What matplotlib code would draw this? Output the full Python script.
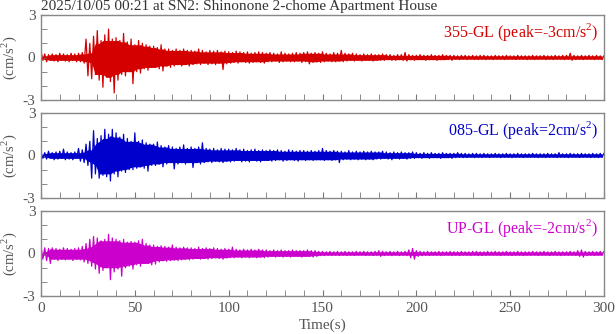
import matplotlib
matplotlib.use("Agg")
import matplotlib.pyplot as plt
import numpy as np
from matplotlib.ticker import MultipleLocator

plt.rcParams['font.family'] = ['Liberation Serif', 'DejaVu Serif']
plt.rcParams['mathtext.fontset'] = 'custom'
plt.rcParams['mathtext.rm'] = 'Liberation Serif'

title = "2025/10/05 00:21 at SN2: Shinonone 2-chome Apartment House"

# time of each 2 s bin (s)
t_bin = np.arange(0, 300, 2)

# 355-GL: upper / lower peak in each 2 s bin (cm/s^2)
ns_up = [0.45, 0.25, 0.2, 0.25, 0.2, 0.3, 0.25, 0.2, 0.3, 0.25,
         0.3, 0.35, 1.3, 1.0, 1.5, 1.9, 1.2, 1.6, 2.0, 1.3,
         1.4, 1.2, 1.7, 1.1, 1.3, 0.9, 1.2, 1.0, 0.9, 0.8,
         0.8, 0.7, 0.9, 0.6, 0.6, 0.5, 0.6, 0.5, 0.6, 0.5,
         0.5, 0.45, 0.6, 0.5, 0.4, 0.5, 0.45, 0.5, 0.4, 0.45,
         0.4, 0.35, 0.45, 0.4, 0.35, 0.4, 0.3, 0.35, 0.4, 0.35,
         0.3, 0.35, 0.3, 0.25, 0.4, 0.3, 0.25, 0.3, 0.35, 0.3,
         0.35, 0.4, 0.3, 0.35, 0.3, 0.4, 0.3, 0.25, 0.35, 0.3,
         0.5, 0.3, 0.25, 0.3, 0.25, 0.2, 0.25, 0.2, 0.25, 0.2,
         0.2, 0.25, 0.2, 0.2, 0.15, 0.2, 0.2, 0.35, 0.2, 0.15,
         0.15, 0.2, 0.15, 0.15, 0.2, 0.15, 0.15, 0.2, 0.15, 0.15,
         0.15, 0.12, 0.15, 0.15, 0.12, 0.15, 0.12, 0.15, 0.15, 0.12,
         0.12, 0.15, 0.12, 0.12, 0.15, 0.12, 0.12, 0.15, 0.12, 0.12,
         0.12, 0.15, 0.12, 0.12, 0.15, 0.12, 0.12, 0.15, 0.12, 0.15,
         0.15, 0.3, 0.15, 0.12, 0.15, 0.12, 0.15, 0.12, 0.15, 0.12]
ns_lo = [-0.2, -0.3, -0.2, -0.25, -0.3, -0.2, -0.25, -0.3, -0.2, -0.3,
         -0.3, -0.4, -1.3, -1.5, -1.2, -1.6, -2.1, -1.4, -1.7, -2.5,
         -1.6, -1.2, -1.3, -1.0, -1.85, -1.0, -1.1, -0.8, -0.9, -0.7,
         -0.7, -0.8, -0.95, -0.6, -0.7, -0.6, -0.5, -0.6, -0.5, -0.6,
         -0.5, -0.45, -0.5, -0.4, -0.5, -0.45, -0.5, -0.4, -0.85, -0.45,
         -0.4, -0.35, -0.4, -0.3, -0.35, -0.4, -0.35, -0.3, -0.35, -0.4,
         -0.3, -0.3, -0.25, -0.35, -0.3, -0.25, -0.3, -0.3, -0.25, -0.35,
         -0.3, -0.45, -0.35, -0.3, -0.35, -0.3, -0.25, -0.3, -0.3, -0.25,
         -0.3, -0.25, -0.2, -0.25, -0.2, -0.25, -0.2, -0.2, -0.25, -0.2,
         -0.2, -0.2, -0.15, -0.2, -0.2, -0.15, -0.2, -0.25, -0.15, -0.2,
         -0.15, -0.15, -0.2, -0.15, -0.15, -0.2, -0.15, -0.15, -0.15, -0.2,
         -0.12, -0.15, -0.12, -0.15, -0.12, -0.15, -0.15, -0.12, -0.15, -0.12,
         -0.15, -0.12, -0.12, -0.15, -0.12, -0.12, -0.15, -0.12, -0.12, -0.15,
         -0.12, -0.15, -0.12, -0.12, -0.15, -0.12, -0.15, -0.12, -0.12, -0.15,
         -0.12, -0.2, -0.15, -0.12, -0.15, -0.12, -0.12, -0.15, -0.12, -0.15]

# 085-GL
ew_up = [0.25, 0.2, 0.3, 0.2, 0.25, 0.3, 0.45, 0.25, 0.2, 0.25,
         0.5, 0.4, 0.8, 1.0, 1.75, 1.2, 1.4, 1.85, 1.5, 1.85,
         1.6, 1.3, 1.5, 1.2, 1.0, 1.6, 1.0, 1.1, 0.9, 0.8,
         0.8, 0.95, 0.7, 0.6, 0.7, 0.6, 0.5, 0.6, 0.75, 0.5,
         0.6, 0.5, 0.6, 0.9, 0.5, 0.45, 0.5, 0.4, 0.5, 0.45,
         0.45, 0.4, 0.5, 0.4, 0.45, 0.35, 0.4, 0.45, 0.35, 0.4,
         0.35, 0.4, 0.35, 0.4, 0.35, 0.3, 0.4, 0.35, 0.3, 0.35,
         0.35, 0.3, 0.35, 0.3, 0.35, 0.5, 0.35, 0.3, 0.35, 0.3,
         0.3, 0.25, 0.35, 0.25, 0.3, 0.25, 0.3, 0.25, 0.3, 0.25,
         0.25, 0.3, 0.25, 0.2, 0.25, 0.2, 0.25, 0.2, 0.2, 0.25,
         0.2, 0.15, 0.2, 0.15, 0.2, 0.15, 0.15, 0.2, 0.15, 0.15,
         0.15, 0.2, 0.15, 0.15, 0.12, 0.15, 0.15, 0.12, 0.15, 0.12,
         0.12, 0.15, 0.12, 0.12, 0.15, 0.12, 0.12, 0.15, 0.12, 0.12,
         0.12, 0.15, 0.12, 0.12, 0.12, 0.15, 0.12, 0.12, 0.2, 0.12,
         0.12, 0.15, 0.12, 0.12, 0.15, 0.12, 0.12, 0.15, 0.12, 0.15]
ew_lo = [-0.2, -0.25, -0.2, -0.3, -0.25, -0.2, -0.3, -0.25, -0.3, -0.2,
         -0.4, -0.5, -0.7, -1.6, -1.3, -1.6, -1.4, -1.5, -1.8, -1.3,
         -1.5, -1.1, -1.2, -1.0, -1.0, -0.9, -0.8, -0.9, -1.1, -0.7,
         -0.7, -0.6, -0.8, -0.6, -0.5, -0.95, -0.6, -0.5, -0.6, -0.5,
         -0.85, -0.5, -0.6, -0.5, -0.45, -0.5, -0.4, -0.45, -0.5, -0.4,
         -0.45, -0.4, -0.35, -0.45, -0.4, -0.45, -0.35, -0.4, -0.45, -0.35,
         -0.35, -0.4, -0.35, -0.3, -0.4, -0.35, -0.3, -0.35, -0.4, -0.3,
         -0.35, -0.3, -0.35, -0.3, -0.3, -0.35, -0.3, -0.35, -0.3, -0.5,
         -0.3, -0.25, -0.3, -0.25, -0.3, -0.25, -0.3, -0.25, -0.3, -0.25,
         -0.25, -0.2, -0.25, -0.3, -0.2, -0.25, -0.2, -0.25, -0.2, -0.2,
         -0.15, -0.2, -0.15, -0.2, -0.15, -0.15, -0.2, -0.15, -0.15, -0.2,
         -0.15, -0.12, -0.15, -0.15, -0.12, -0.15, -0.12, -0.15, -0.12, -0.15,
         -0.12, -0.12, -0.15, -0.12, -0.12, -0.15, -0.12, -0.12, -0.15, -0.12,
         -0.12, -0.12, -0.15, -0.12, -0.15, -0.12, -0.12, -0.15, -0.12, -0.12,
         -0.15, -0.12, -0.12, -0.15, -0.12, -0.12, -0.15, -0.12, -0.15, -0.12]

# UP-GL
ud_up = [0.5, 0.4, 0.35, 0.4, 0.35, 0.3, 0.4, 0.35, 0.3, 0.35,
         0.4, 0.5, 0.7, 1.0, 1.2, 1.1, 0.9, 1.0, 1.35, 1.1,
         1.0, 0.9, 1.0, 0.8, 0.85, 0.8, 0.9, 1.0, 0.7, 0.6,
         0.6, 0.5, 0.55, 0.5, 0.45, 0.6, 0.45, 0.4, 0.45, 0.4,
         0.4, 0.35, 0.45, 0.35, 0.4, 0.35, 0.4, 0.35, 0.3, 0.35,
         0.3, 0.45, 0.3, 0.25, 0.3, 0.25, 0.3, 0.25, 0.3, 0.25,
         0.25, 0.2, 0.25, 0.2, 0.25, 0.2, 0.2, 0.25, 0.2, 0.2,
         0.2, 0.25, 0.2, 0.2, 0.15, 0.15, 0.12, 0.15, 0.12, 0.15,
         0.12, 0.15, 0.12, 0.12, 0.15, 0.12, 0.15, 0.12, 0.12, 0.15,
         0.2, 0.15, 0.12, 0.15, 0.12, 0.15, 0.12, 0.15, 0.25, 0.35,
         0.2, 0.15, 0.12, 0.15, 0.12, 0.12, 0.15, 0.12, 0.12, 0.15,
         0.12, 0.12, 0.15, 0.12, 0.12, 0.15, 0.15, 0.12, 0.12, 0.15,
         0.12, 0.15, 0.12, 0.12, 0.15, 0.12, 0.12, 0.15, 0.12, 0.12,
         0.12, 0.15, 0.12, 0.12, 0.15, 0.12, 0.12, 0.15, 0.12, 0.12,
         0.12, 0.15, 0.12, 0.2, 0.25, 0.15, 0.12, 0.15, 0.12, 0.15]
ud_lo = [-0.4, -0.5, -0.7, -0.4, -0.5, -0.4, -0.45, -0.4, -0.5, -0.4,
         -0.45, -0.6, -0.7, -0.9, -1.1, -1.4, -1.2, -1.0, -1.85, -1.3,
         -1.1, -1.6, -1.0, -0.9, -1.1, -0.8, -0.9, -0.7, -0.7, -0.8,
         -0.75, -0.6, -0.5, -0.55, -0.5, -0.45, -0.5, -0.45, -0.4, -0.45,
         -0.4, -0.35, -0.4, -0.35, -0.4, -0.35, -0.3, -0.35, -0.4, -0.3,
         -0.3, -0.3, -0.25, -0.3, -0.25, -0.3, -0.25, -0.3, -0.25, -0.3,
         -0.25, -0.2, -0.25, -0.2, -0.25, -0.2, -0.25, -0.2, -0.2, -0.25,
         -0.2, -0.2, -0.25, -0.2, -0.15, -0.15, -0.12, -0.15, -0.12, -0.15,
         -0.12, -0.15, -0.12, -0.15, -0.12, -0.12, -0.15, -0.12, -0.15, -0.12,
         -0.2, -0.15, -0.12, -0.15, -0.12, -0.15, -0.12, -0.15, -0.3, -0.4,
         -0.2, -0.15, -0.12, -0.15, -0.12, -0.12, -0.15, -0.12, -0.12, -0.15,
         -0.12, -0.15, -0.12, -0.12, -0.15, -0.12, -0.15, -0.15, -0.12, -0.12,
         -0.12, -0.12, -0.15, -0.12, -0.12, -0.15, -0.12, -0.12, -0.15, -0.12,
         -0.12, -0.12, -0.15, -0.12, -0.12, -0.15, -0.12, -0.12, -0.15, -0.12,
         -0.12, -0.12, -0.15, -0.2, -0.25, -0.15, -0.12, -0.15, -0.12, -0.12]

labels = ["355-GL (peak=-3cm/s$^2$)", "085-GL (peak=2cm/s$^2$)", "UP-GL (peak=-2cm/s$^2$)"]
colors = ["#d40000", "#0000cc", "#cc00cc"]
ups = [ns_up, ew_up, ud_up]
los = [ns_lo, ew_lo, ud_lo]

fig = plt.figure(figsize=(6.16, 3.34), dpi=100)
grey = "#555555"
tops = [15, 113, 211]
for i in range(3):
    ax = fig.add_axes([41 / 616, 1 - (tops[i] + 85) / 334, 563 / 616, 85 / 334])
    up = np.array(ups[i])
    lo = np.array(los[i])
    # dense core: the smallest peak among the 5 neighbouring bins
    core_up = up.copy()
    core_lo = lo.copy()
    for k in (-2, -1, 1, 2):
        core_up = np.minimum(core_up, np.roll(up, k))
        core_lo = np.maximum(core_lo, np.roll(lo, k))
    ax.fill_between(t_bin + 1, core_lo, core_up, color=colors[i], lw=0)
    # zigzag from the upper peak to the lower peak of each bin
    tz = np.ravel(np.column_stack([t_bin, t_bin + 1]))
    yz = np.ravel(np.column_stack([up, lo]))
    ax.plot(np.append(tz, 300), np.append(yz, up[-1]), color=colors[i], lw=0.9)
    ax.set_xlim(0, 300)
    ax.set_ylim(-3, 3)
    ax.set_yticks([-3, 0, 3])
    ax.set_yticklabels(["-3", "0", "3"])
    ax.yaxis.set_minor_locator(MultipleLocator(1))
    ax.set_xticks([0, 50, 100, 150, 200, 250, 300])
    ax.xaxis.set_minor_locator(MultipleLocator(10))
    ax.tick_params(which='both', direction='in', length=4, color="#777777",
                   labelcolor=grey, labelsize=11, pad=4)
    for s in ax.spines.values():
        s.set_color("#888888")
        s.set_linewidth(1.0)
    if i < 2:
        ax.set_xticklabels([])
    else:
        ax.set_xlabel("Time(s)", color=grey, fontsize=11, labelpad=3)
    ax.set_ylabel("(cm/s$^2$)", color=grey, fontsize=10.5, labelpad=3)
    ax.text(0.99, 0.93, labels[i], color=colors[i], fontsize=11.5,
            ha='right', va='top', transform=ax.transAxes)
    if i == 0:
        ax.text(0, 1.02, title, color="#333333", fontsize=11,
                ha='left', va='bottom', transform=ax.transAxes)

fig.savefig("out.png", dpi=100)
